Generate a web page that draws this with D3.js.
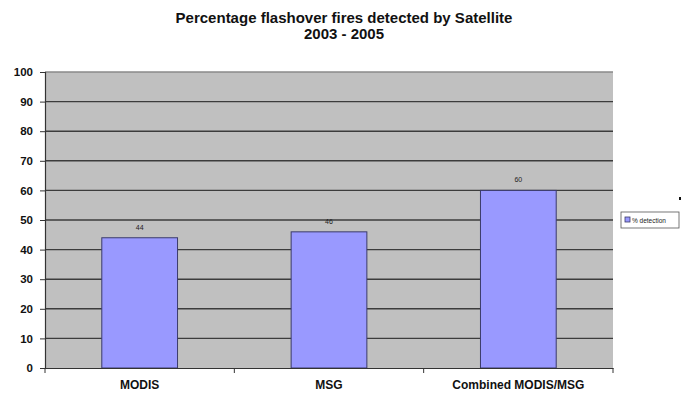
<!DOCTYPE html>
<html>
<head>
<meta charset="utf-8">
<script src="https://cdn.jsdelivr.net/npm/d3@7"></script>
<style>
  body { margin: 0; background: #fff; }
  text { font-family: "Liberation Sans", Arial, sans-serif; }
</style>
</head>
<body>
<div id="chart"></div>
<script>
// data
const categories = ["MODIS", "MSG", "Combined MODIS/MSG"];
const detection = [44, 46, 60];
const yTicks = [0, 10, 20, 30, 40, 50, 60, 70, 80, 90, 100];
const seriesName = "% detection";

const W = 687, H = 394;
const plot = {left: 45, right: 613, top: 72, bottom: 368};

const svg = d3.select("#chart")
    .append("svg")
    .attr("width", W)
    .attr("height", H);

const x = d3.scaleBand()
    .domain(categories)
    .range([plot.left, plot.right])
    .paddingInner(0.6)
    .paddingOuter(0.3);

const y = d3.scaleLinear()
    .domain([0, 100])
    .range([plot.bottom, plot.top]);

// plot background
svg.append("rect")
    .attr("x", plot.left)
    .attr("y", plot.top)
    .attr("width", plot.right - plot.left)
    .attr("height", plot.bottom - plot.top)
    .style("fill", "#c0c0c0");

// gridlines
svg.append("g")
    .selectAll("line")
    .data(yTicks.filter(d => d > 0))
    .join("line")
    .attr("x1", plot.left)
    .attr("x2", plot.right)
    .attr("y1", d => y(d))
    .attr("y2", d => y(d))
    .style("stroke", d => d === 100 ? "#8a8a8a" : "#3c3c3c")
    .style("stroke-width", 1.4);

// bars
svg.append("g")
    .selectAll("rect")
    .data(detection)
    .join("rect")
    .attr("x", (d, i) => x(categories[i]))
    .attr("y", d => y(d))
    .attr("width", x.bandwidth())
    .attr("height", d => y(0) - y(d))
    .style("fill", "#9999ff")
    .style("stroke", "#3a3a6a")
    .style("stroke-width", 1);

// value labels
svg.append("g")
    .selectAll("text")
    .data(detection)
    .join("text")
    .text(d => d)
    .attr("x", (d, i) => x(categories[i]) + x.bandwidth() / 2)
    .attr("y", d => y(d) - 8)
    .attr("text-anchor", "middle")
    .style("font-size", "7px")
    .style("fill", "#222");

// y axis
const yAxis = svg.append("g")
    .attr("transform", `translate(${plot.left},0)`)
    .call(d3.axisLeft(y).tickValues(yTicks).tickSize(5).tickPadding(7));
yAxis.select(".domain").style("stroke", "#333").style("stroke-width", 1.2);
yAxis.selectAll(".tick line").style("stroke", "#333");
yAxis.selectAll("text")
    .style("font-size", "11.5px")
    .style("font-weight", "bold")
    .style("fill", "#111");

// x axis
const xAxis = svg.append("g")
    .attr("transform", `translate(0,${plot.bottom})`)
    .call(d3.axisBottom(x).tickSize(0).tickPadding(12));
xAxis.select(".domain").style("stroke", "#333").style("stroke-width", 1.2);
xAxis.selectAll("text")
    .style("font-size", "12px")
    .style("font-weight", "bold")
    .style("fill", "#111");

// x tick marks at category boundaries
svg.append("g")
    .selectAll("line")
    .data(d3.range(categories.length + 1))
    .join("line")
    .attr("x1", i => plot.left + i * (plot.right - plot.left) / categories.length)
    .attr("x2", i => plot.left + i * (plot.right - plot.left) / categories.length)
    .attr("y1", plot.bottom)
    .attr("y2", plot.bottom + 5)
    .style("stroke", "#333");

// title
svg.append("text")
    .text("Percentage flashover fires detected by Satellite")
    .attr("x", 344)
    .attr("y", 23)
    .attr("text-anchor", "middle")
    .style("font-size", "15px")
    .style("font-weight", "bold")
    .style("fill", "#111");

svg.append("text")
    .text("2003 - 2005")
    .attr("x", 344)
    .attr("y", 39)
    .attr("text-anchor", "middle")
    .style("font-size", "15px")
    .style("font-weight", "bold")
    .style("fill", "#111");

// legend
const legend = svg.append("g")
    .attr("transform", "translate(621,212)");
legend.append("rect")
    .attr("width", 58)
    .attr("height", 16)
    .style("fill", "#fff")
    .style("stroke", "#555")
    .style("stroke-width", 0.8);
legend.append("rect")
    .attr("x", 4)
    .attr("y", 5)
    .attr("width", 5)
    .attr("height", 5)
    .style("fill", "#9999ff")
    .style("stroke", "#3a3a6a")
    .style("stroke-width", 0.8);
legend.append("text")
    .text(seriesName)
    .attr("x", 11)
    .attr("y", 10.5)
    .style("font-size", "6.5px")
    .style("fill", "#222");

// small mark right of the plot
svg.append("rect")
    .attr("x", 679)
    .attr("y", 197)
    .attr("width", 2)
    .attr("height", 3)
    .style("fill", "#111");
</script>
</body>
</html>
